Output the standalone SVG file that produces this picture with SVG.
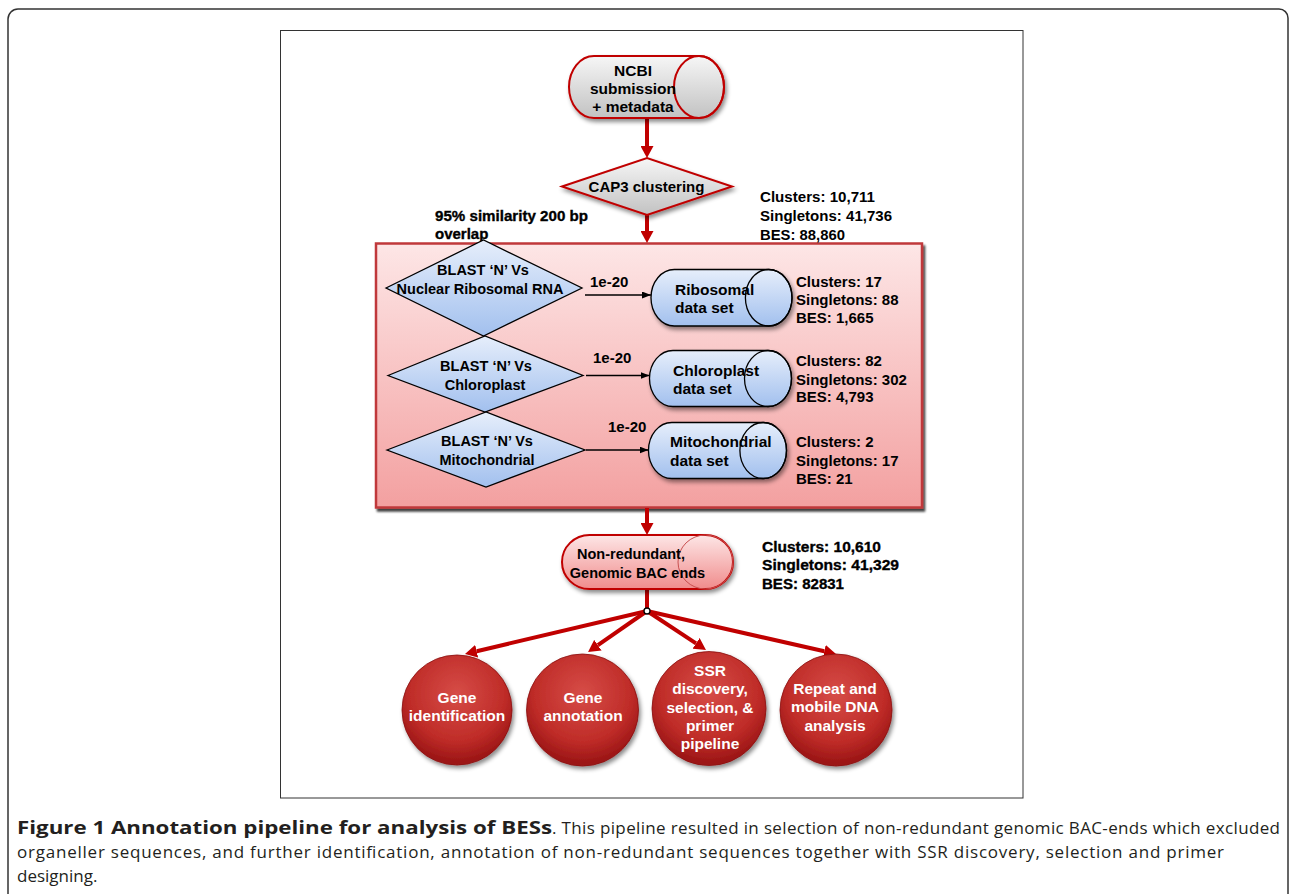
<svg xmlns="http://www.w3.org/2000/svg" width="1290" height="894" viewBox="0 0 1290 894">
<defs>
<style>
.t{font-family:"Liberation Sans",Arial,sans-serif;font-weight:bold;fill:#000}
.m{text-anchor:middle}
.f15{font-size:15px}
.f155{font-size:15.5px}
.f145{font-size:14.5px}
.heavy{stroke:#000;stroke-width:0.35}
.w{fill:#fff}
.cap{font-family:"Open Sans","Liberation Sans",sans-serif;font-size:17px;fill:#231f20}
.capb{font-size:18.5px;font-weight:bold}
.redline{stroke:#c00000;stroke-width:4;fill:none}
.blk{stroke:#000;stroke-width:1.3;fill:none}
.bluefill{fill:url(#gBlue);stroke:#000;stroke-width:1.3}
.grayfill{fill:url(#gGray);stroke:#c00000;stroke-width:2}
.capel{fill:none;stroke:#000;stroke-width:1.3}
</style>
<linearGradient id="gGray" x1="0" y1="0" x2="0" y2="1"><stop offset="0" stop-color="#f6f6f6"/><stop offset="1" stop-color="#c2c2c2"/></linearGradient>
<linearGradient id="gBlue" x1="0" y1="0" x2="0" y2="1"><stop offset="0" stop-color="#e6eefb"/><stop offset="1" stop-color="#a2c0ee"/></linearGradient>
<linearGradient id="gPinkBox" x1="0" y1="0" x2="0" y2="1"><stop offset="0" stop-color="#fde6e6"/><stop offset="1" stop-color="#f3a0a0"/></linearGradient>
<linearGradient id="gPill" x1="0" y1="0" x2="0" y2="1"><stop offset="0" stop-color="#fde6e6"/><stop offset="1" stop-color="#f08c8c"/></linearGradient>
<radialGradient id="gRed" cx="50%" cy="35%" r="62%"><stop offset="0" stop-color="#d64c47"/><stop offset="0.7" stop-color="#bf2c28"/><stop offset="1" stop-color="#9c1616"/></radialGradient>
<filter id="sh" x="-20%" y="-20%" width="145%" height="150%"><feDropShadow dx="2" dy="3" stdDeviation="2" flood-color="#000" flood-opacity="0.45"/></filter>
<filter id="shBox" x="-5%" y="-5%" width="112%" height="115%"><feDropShadow dx="2" dy="3" stdDeviation="1.2" flood-color="#000" flood-opacity="0.75"/></filter>
<marker id="ahR" viewBox="0 0 10 10" refX="0" refY="5" markerWidth="12" markerHeight="13" markerUnits="userSpaceOnUse" orient="auto" preserveAspectRatio="none"><path d="M0,0 L10,5 L0,10 z" fill="#c00000"/></marker>
<marker id="ahK" viewBox="0 0 10 10" refX="10" refY="5" markerWidth="9" markerHeight="7" markerUnits="userSpaceOnUse" orient="auto" preserveAspectRatio="none"><path d="M0,0 L10,5 L0,10 z" fill="#000"/></marker>
</defs>

<rect x="0" y="0" width="1290" height="894" fill="#fff"/>
<path d="M8,895 V19 A10,10 0 0 1 18,9 H1279 A9,9 0 0 1 1288,18 V895" fill="none" stroke="#333" stroke-width="1.5"/>
<rect x="280.5" y="30.5" width="742.5" height="767.5" fill="#fff" stroke="#333" stroke-width="1"/>

<g id="organelle-box">
<rect x="376" y="243.5" width="546" height="264" fill="url(#gPinkBox)" stroke="#c0393b" stroke-width="2.5" filter="url(#shBox)"/>
</g>

<g id="connectors">
<line class="redline" x1="647" y1="118" x2="647" y2="146" marker-end="url(#ahR)"/>
<line class="redline" x1="647" y1="215" x2="647" y2="231" marker-end="url(#ahR)"/>
<line class="redline" x1="647" y1="508" x2="647" y2="523" marker-end="url(#ahR)"/>
<line class="redline" x1="647" y1="589" x2="647" y2="611"/>
<line class="redline" x1="647" y1="611" x2="476.7" y2="651.2" marker-end="url(#ahR)"/>
<line class="redline" x1="647" y1="611" x2="597.9" y2="645.2" marker-end="url(#ahR)"/>
<line class="redline" x1="647" y1="611" x2="696" y2="643.4" marker-end="url(#ahR)"/>
<line class="redline" x1="647" y1="611" x2="824.3" y2="651.3" marker-end="url(#ahR)"/>
<circle cx="647" cy="611" r="3" fill="#fff" stroke="#000" stroke-width="1.3"/>
<line class="blk" x1="585" y1="295" x2="651" y2="295" marker-end="url(#ahK)"/>
<line class="blk" x1="586" y1="375.5" x2="649.5" y2="375.5" marker-end="url(#ahK)"/>
<line class="blk" x1="586" y1="450" x2="648.5" y2="450" marker-end="url(#ahK)"/>
<text class="t f15" x="590" y="287">1e-20</text>
<text class="t f15" x="593" y="362.5">1e-20</text>
<text class="t f15" x="608" y="431.5">1e-20</text>
</g>

<g id="ncbi">
<path d="M594,56 H699 A25,31 0 0 1 699,118 H594 A25,31 0 0 1 594,56 Z" class="grayfill" filter="url(#sh)"/>
<ellipse cx="699" cy="87" rx="25" ry="31" fill="none" stroke="#c00000" stroke-width="2"/>
<text class="t f155 m" x="633" y="75.5">NCBI</text>
<text class="t f155 m" x="633" y="93.5">submission</text>
<text class="t f155 m" x="633" y="112">+ metadata</text>
</g>

<g id="cap3">
<polygon points="562,186.5 647,158 732,186.5 647,215" class="grayfill" filter="url(#sh)"/>
<text class="t f15 m" x="646.5" y="192">CAP3 clustering</text>
</g>

<g id="cap3-stats">
<text class="t f15" x="760" y="202" textLength="115" lengthAdjust="spacingAndGlyphs">Clusters: 10,711</text>
<text class="t f15" x="760" y="221" textLength="132" lengthAdjust="spacingAndGlyphs">Singletons: 41,736</text>
<text class="t f15" x="760" y="239.5" textLength="85" lengthAdjust="spacingAndGlyphs">BES: 88,860</text>
</g>

<g id="similarity-label">
<text class="t f15 heavy" x="435" y="220.5" textLength="153" lengthAdjust="spacingAndGlyphs">95% similarity 200 bp</text>
<text class="t f15 heavy" x="435" y="238.5">overlap</text>
</g>

<g id="blast-ribosomal">
<polygon points="386,288 483.5,240 582,288 483.5,336" class="bluefill"/>
<text class="t f145 m" x="483" y="275">BLAST &#8216;N&#8217; Vs</text>
<text class="t f145 m" x="480" y="294">Nuclear Ribosomal RNA</text>
</g>

<g id="blast-chloroplast">
<polygon points="388,375.5 485,336 583,375.5 485,412" class="bluefill"/>
<text class="t f145 m" x="486" y="371">BLAST &#8216;N&#8217; Vs</text>
<text class="t f145 m" x="485" y="389.5">Chloroplast</text>
</g>

<g id="blast-mitochondrial">
<polygon points="387,450 486,412 585,450 486,487" class="bluefill"/>
<text class="t f145 m" x="487" y="446">BLAST &#8216;N&#8217; Vs</text>
<text class="t f145 m" x="487" y="464.5">Mitochondrial</text>
</g>

<g id="ribosomal-set">
<path d="M674.3,269.5 H768.7 A23.3,28.25 0 0 1 768.7,326 H674.3 A23.3,28.25 0 0 1 674.3,269.5 Z" class="bluefill" filter="url(#sh)"/>
<ellipse class="capel" cx="768.7" cy="297.75" rx="23.3" ry="28.25"/>
<text class="t f155" x="675" y="294.5">Ribosomal</text>
<text class="t f155" x="675" y="312.5">data set</text>
</g>
<g id="ribosomal-stats">
<text class="t f15" x="796" y="286.5">Clusters: 17</text>
<text class="t f15" x="796" y="305">Singletons: 88</text>
<text class="t f15" x="796" y="323">BES: 1,665</text>
</g>

<g id="chloroplast-set">
<path d="M673,350.5 H768 A23.5,28 0 0 1 768,406.5 H673 A23.5,28 0 0 1 673,350.5 Z" class="bluefill" filter="url(#sh)"/>
<ellipse class="capel" cx="768" cy="378.5" rx="23.5" ry="28"/>
<text class="t f155" x="673" y="375.5">Chloroplast</text>
<text class="t f155" x="673" y="393.5">data set</text>
</g>
<g id="chloroplast-stats">
<text class="t f15" x="796" y="366">Clusters: 82</text>
<text class="t f15" x="796" y="384.5">Singletons: 302</text>
<text class="t f15" x="796" y="402">BES: 4,793</text>
</g>

<g id="mitochondrial-set">
<path d="M671.8,422.5 H763.2 A23.3,28 0 0 1 763.2,478.5 H671.8 A23.3,28 0 0 1 671.8,422.5 Z" class="bluefill" filter="url(#sh)"/>
<ellipse class="capel" cx="763.2" cy="450.5" rx="23.3" ry="28"/>
<text class="t f155" x="670" y="447">Mitochondrial</text>
<text class="t f155" x="670" y="465.5">data set</text>
</g>
<g id="mitochondrial-stats">
<text class="t f15" x="796" y="447">Clusters: 2</text>
<text class="t f15" x="796" y="465.5">Singletons: 17</text>
<text class="t f15" x="796" y="483.5">BES: 21</text>
</g>

<g id="nonredundant">
<path d="M589.5,535 H705.5 A27.5,27 0 0 1 705.5,589 H589.5 A27.5,27 0 0 1 589.5,535 Z" fill="url(#gPill)" stroke="#c00000" stroke-width="2" filter="url(#sh)"/>
<ellipse cx="705.5" cy="562" rx="27.5" ry="27" fill="none" stroke="#c85050" stroke-width="1"/>
<text class="t f145 m" x="631" y="558.5">Non-redundant,</text>
<text class="t f145 m" x="637.5" y="577.5">Genomic BAC ends</text>
</g>
<g id="nonredundant-stats">
<text class="t f155 heavy" x="762" y="551.5" textLength="119" lengthAdjust="spacingAndGlyphs">Clusters: 10,610</text>
<text class="t f155 heavy" x="762" y="569.5" textLength="137" lengthAdjust="spacingAndGlyphs">Singletons: 41,329</text>
<text class="t f155 heavy" x="762" y="588.5" textLength="82" lengthAdjust="spacingAndGlyphs">BES: 82831</text>
</g>

<g id="gene-identification">
<circle cx="457" cy="710" r="55" fill="url(#gRed)" stroke="#8a1010" stroke-width="0.8" filter="url(#sh)"/>
<text class="t f155 m w" x="457" y="702.5">Gene</text>
<text class="t f155 m w" x="457" y="720.5">identification</text>
</g>
<g id="gene-annotation">
<circle cx="582.5" cy="710" r="56" fill="url(#gRed)" stroke="#8a1010" stroke-width="0.8" filter="url(#sh)"/>
<text class="t f155 m w" x="583" y="702.5">Gene</text>
<text class="t f155 m w" x="583" y="720.5">annotation</text>
</g>
<g id="ssr-discovery">
<circle cx="709" cy="708.5" r="57" fill="url(#gRed)" stroke="#8a1010" stroke-width="0.8" filter="url(#sh)"/>
<text class="t f155 m w" x="710" y="675.5">SSR</text>
<text class="t f155 m w" x="710" y="694">discovery,</text>
<text class="t f155 m w" x="710" y="712.5">selection, &amp;</text>
<text class="t f155 m w" x="710" y="731">primer</text>
<text class="t f155 m w" x="710" y="749">pipeline</text>
</g>
<g id="repeat-analysis">
<circle cx="836" cy="710" r="56" fill="url(#gRed)" stroke="#8a1010" stroke-width="0.8" filter="url(#sh)"/>
<text class="t f155 m w" x="835" y="693.5">Repeat and</text>
<text class="t f155 m w" x="835" y="712">mobile DNA</text>
<text class="t f155 m w" x="835" y="730.5">analysis</text>
</g>

<g id="caption">
<text class="cap capb" x="17" y="834" textLength="535" lengthAdjust="spacingAndGlyphs">Figure 1 Annotation pipeline for analysis of BESs</text>
<text class="cap" x="552" y="834" textLength="728" lengthAdjust="spacing">. This pipeline resulted in selection of non-redundant genomic BAC-ends which excluded</text>
<text class="cap" x="17" y="858" textLength="1207" lengthAdjust="spacing">organeller sequences, and further identification, annotation of non-redundant sequences together with SSR discovery, selection and primer</text>
<text class="cap" x="17" y="882">designing.</text>
</g>
</svg>
